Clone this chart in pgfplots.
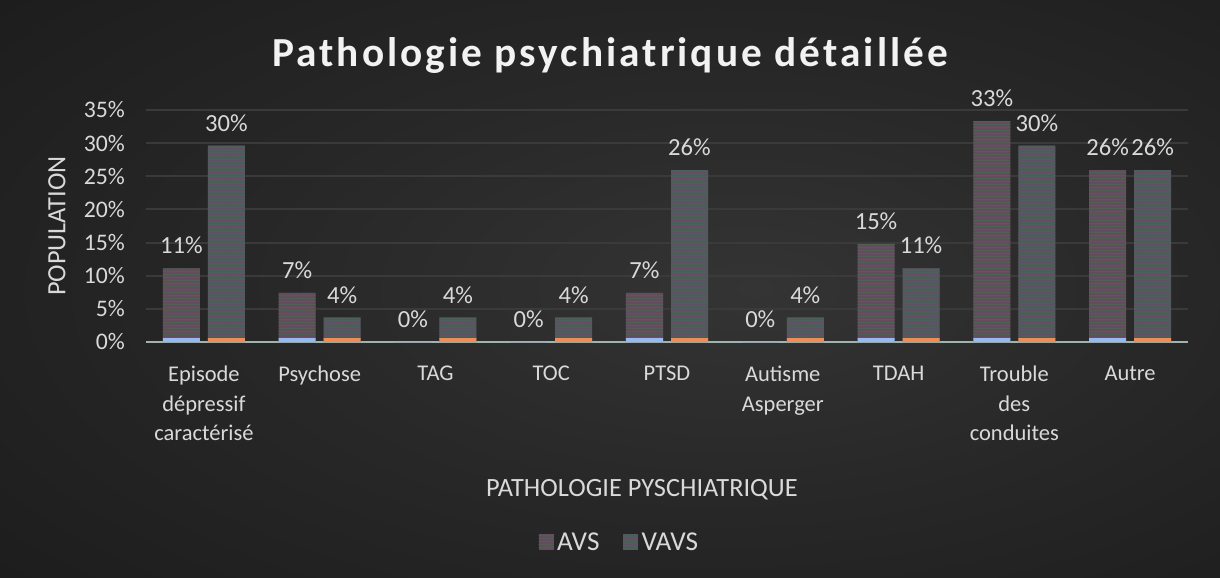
\documentclass[border=0pt]{standalone}
\usepackage{fontspec}
\setmainfont{Carlito}
\usepackage{pgfplots}
\pgfplotsset{compat=1.18}
\usetikzlibrary{patterns.meta}
\definecolor{txt}{RGB}{217,217,217}
\definecolor{gridc}{RGB}{58,58,58}
\definecolor{axisc}{RGB}{160,180,175}
\definecolor{avsbase}{RGB}{98,76,94}
\definecolor{avsline}{RGB}{78,98,80}
\definecolor{vavsbase}{RGB}{78,94,90}
\definecolor{vavsline}{RGB}{100,76,104}
\definecolor{stripA}{RGB}{150,185,240}
\definecolor{stripB}{RGB}{240,140,90}
\definecolor{bgA}{RGB}{52,52,52}
\definecolor{bgB}{RGB}{40,40,40}
\definecolor{bgC}{RGB}{22,22,22}
\definecolor{bgD}{RGB}{14,14,14}
\pgfdeclareradialshading{bgshade}{\pgfpoint{6bp}{0bp}}{color(0bp)=(bgA); color(18bp)=(bgB); color(50bp)=(bgC); color(75bp)=(bgD)}

\pgfplotstableread{
x avs vavs sa sb
0 11.11 29.63 0.6 0.6
1 7.41 3.70 0.6 0.6
2 0 3.70 0 0.6
3 0 3.70 0 0.6
4 7.41 25.93 0.6 0.6
5 0 3.70 0 0.6
6 14.81 11.11 0.6 0.6
7 33.33 29.63 0.6 0.6
8 25.93 25.93 0.6 0.6
}\datatable

\begin{document}
\begin{tikzpicture}
\path[use as bounding box] (0,0) rectangle (24.4,11.54);
\shade[shading=bgshade] (0,0) rectangle (24.4,11.54);
\begin{axis}[
  at={(2.92cm,4.70cm)}, anchor=south west,
  scale only axis, width=20.84cm, height=4.64cm,
  xmin=-0.5, xmax=8.5, ymin=0, ymax=35,
  ybar, bar width=0.74cm,
  /pgf/number format/assume math mode=true,
  xtick={0,...,8},
  xticklabels={{Episode\\dépressif\\caractérisé},{Psychose},{TAG},{TOC},{PTSD},{Autisme\\Asperger},{TDAH},{Trouble\\des\\conduites},{Autre}},
  xticklabel style={align=center, font=\fontsize{12.8}{16.7}\selectfont, text=txt, anchor=north, yshift=-0.36cm},
  ytick={0,5,...,35},
  yticklabel={\pgfmathprintnumber{\tick}\%},
  yticklabel style={font=\fontsize{13.5}{15}\selectfont, text=txt, anchor=east, xshift=-0.3cm},
  major tick length=0,
  ymajorgrids, grid style={line width=1.1pt, draw=gridc},
  axis x line*=bottom, axis y line*=left,
  y axis line style={draw=none},
  x axis line style={line width=1.7pt, draw=axisc},
  ylabel={POPULATION},
  ylabel style={at={(axis description cs:-0.0854,0.5)}, anchor=center, font=\fontsize{15}{17}\selectfont, text=txt},
  xlabel={PATHOLOGIE PYSCHIATRIQUE},
  xlabel style={at={(axis description cs:0.476,-0.638)}, anchor=center, font=\fontsize{15}{17}\selectfont, text=txt},
  title={Pathologie psychiatrique détaillée},
  title style={at={(axis description cs:0.4453,1)}, anchor=base, yshift=0.66cm, font=\bfseries\fontsize{23.5}{27}\selectfont\addfontfeature{LetterSpace=7.4}, text=white!95!black},
  nodes near coords={\pgfmathprintnumber[fixed,precision=0]{\pgfplotspointmeta}\%},
  nodes near coords style={font=\fontsize{14}{16}\selectfont, text=txt, yshift=0.16cm},
  legend style={at={(axis description cs:0.455,-0.866)}, anchor=center, draw=none, fill=none, legend columns=2, font=\fontsize{15.5}{17}\selectfont, text=txt, /tikz/every even column/.append style={column sep=0.4cm}},
  legend image code/.code={\fill[#1] (0cm,-0.14cm) rectangle (0.3cm,0.18cm);},
]
\addplot[bar shift=-0.45cm, draw=none, fill=avsbase, postaction={pattern={Lines[angle=0,distance=0.06cm,line width=0.02cm]}, pattern color=avsline}] table[x=x,y=avs]{\datatable};
\addlegendentry{AVS}
\addplot[bar shift=0.45cm, draw=none, fill=vavsbase, postaction={pattern={Lines[angle=0,distance=0.06cm,line width=0.02cm]}, pattern color=vavsline}] table[x=x,y=vavs]{\datatable};
\addlegendentry{VAVS}
\addplot[forget plot, bar shift=-0.45cm, draw=none, fill=stripA, nodes near coords={}] table[x=x,y=sa]{\datatable};
\addplot[forget plot, bar shift=0.45cm, draw=none, fill=stripB, nodes near coords={}] table[x=x,y=sb]{\datatable};
\end{axis}
\end{tikzpicture}
\end{document}
